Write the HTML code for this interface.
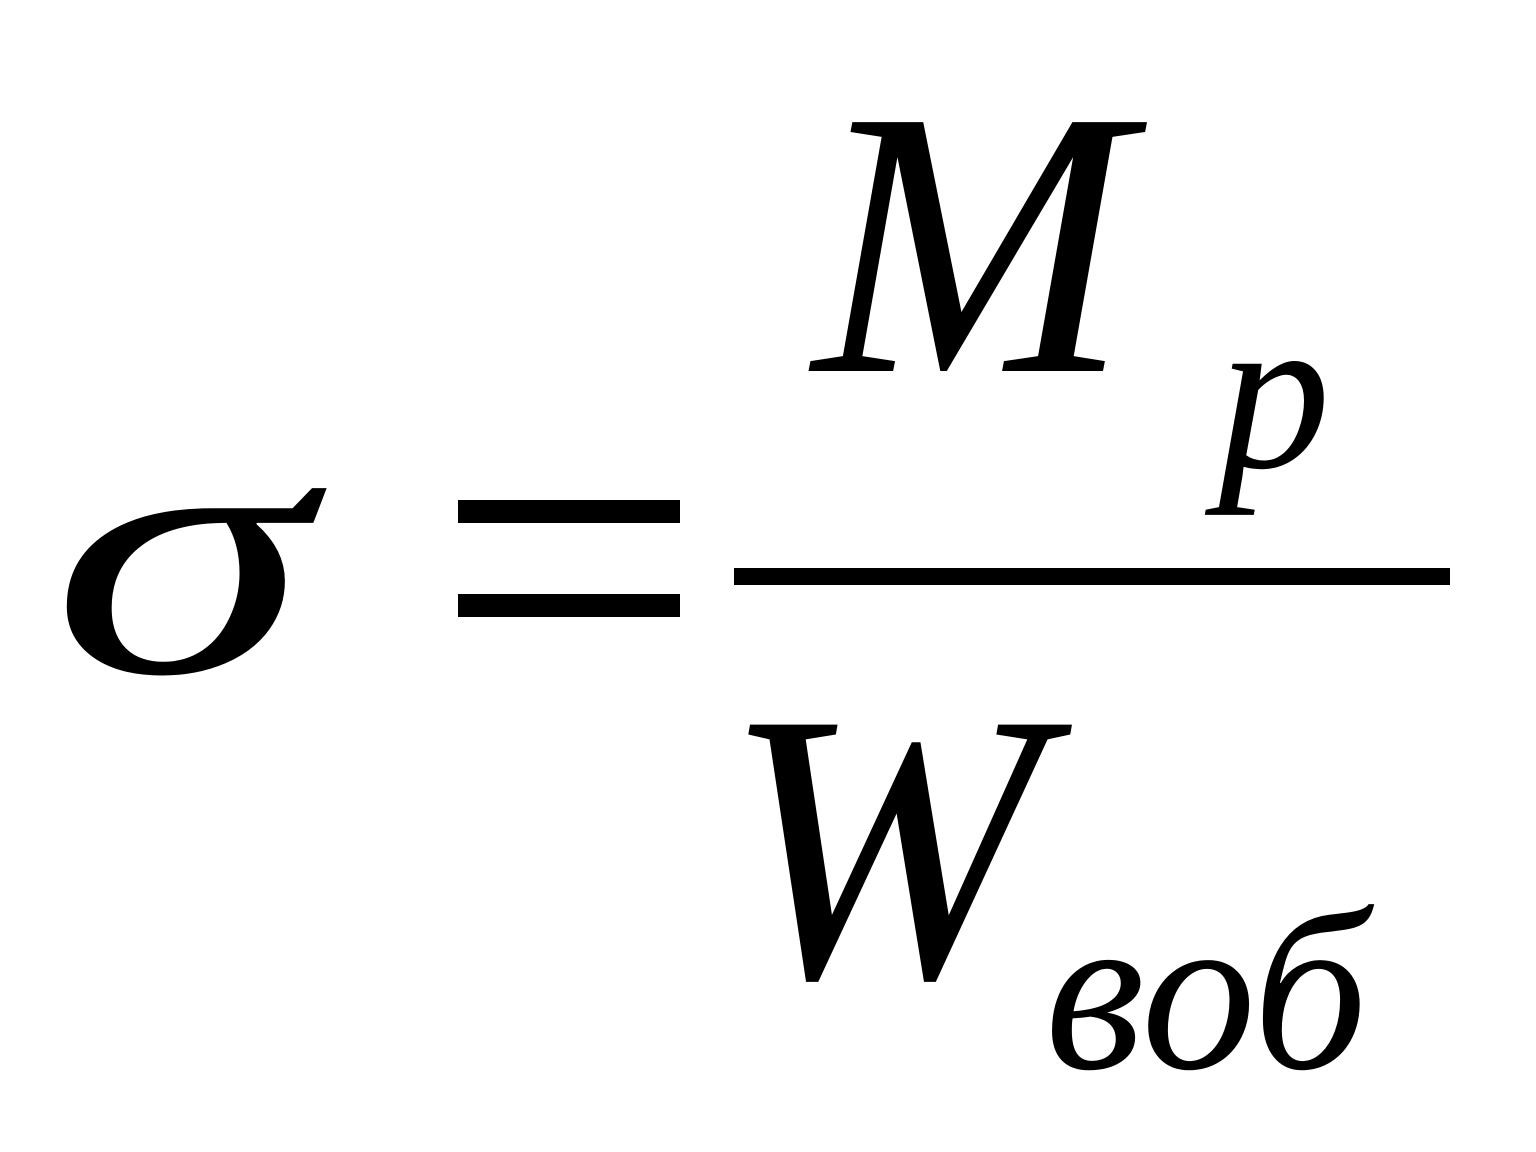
<!DOCTYPE html>
<html><head><meta charset="utf-8"><style>
html,body{margin:0;padding:0;background:#fff;width:1536px;height:1152px;overflow:hidden}
svg{display:block}
text{font-family:"Liberation Serif","DejaVu Serif",serif;font-style:italic;fill:#000}
</style></head><body>
<svg width="1536" height="1152" viewBox="0 0 1536 1152">
<g transform="translate(0,672) scale(1.28,0.87)"><text x="40" y="0" font-size="410">σ</text></g>
<rect x="458" y="500" width="222" height="23" fill="#000"/>
<rect x="458" y="594" width="222" height="23" fill="#000"/>
<rect x="734" y="568" width="716" height="17" fill="#000"/>
<text x="813" y="371" font-size="380">M</text>
<text x="1218" y="467" font-size="225">p</text>
<text x="723" y="976" font-size="384">W</text>
<text x="1045" y="1068" font-size="229">воб</text>
</svg>
</body></html>
